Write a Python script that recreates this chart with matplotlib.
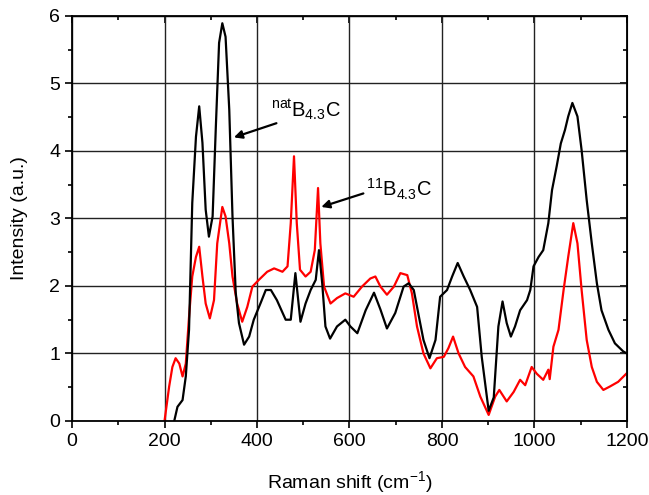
import matplotlib.pyplot as plt
from matplotlib.ticker import MultipleLocator

plt.rcParams['font.family'] = ['Liberation Sans', 'DejaVu Sans']
plt.rcParams['mathtext.fontset'] = 'custom'
plt.rcParams['mathtext.rm'] = 'Liberation Sans'

# natural boron carbide spectrum
x_nat = [221, 228, 239, 246, 253, 260, 268, 275, 282, 289,
         296, 304, 311, 318, 325, 332, 340, 347, 354, 361,
         372, 383, 393, 408, 419, 430, 443, 462, 473, 483,
         494, 505, 516, 527, 534, 541, 548, 558, 573, 591,
         602, 617, 635, 653, 667, 681, 699, 717, 728, 739,
         750, 760, 773, 786, 796, 811, 822, 834, 847, 861,
         876, 886, 901, 912, 922, 931, 940, 949, 958, 969,
         984, 991, 998, 1009, 1019, 1030, 1038, 1048, 1057, 1066,
         1073, 1082, 1093, 1102, 1113, 1124, 1135, 1145, 1160, 1174,
         1192, 1200]
y_nat = [0.0, 0.21, 0.31, 0.66, 1.35, 3.23, 4.21, 4.66, 4.12, 3.13,
         2.73, 3.03, 4.36, 5.6, 5.89, 5.69, 4.61, 3.03, 1.9, 1.45,
         1.13, 1.25, 1.5, 1.75, 1.94, 1.94, 1.79, 1.5, 1.5, 2.19,
         1.47, 1.74, 1.94, 2.09, 2.53, 2.04, 1.4, 1.22, 1.4, 1.5,
         1.4, 1.3, 1.64, 1.9, 1.65, 1.37, 1.6, 1.99, 2.04, 1.94,
         1.55, 1.2, 0.93, 1.2, 1.84, 1.94, 2.14, 2.34, 2.14, 1.94,
         1.69, 0.95, 0.15, 0.35, 1.4, 1.77, 1.45, 1.25, 1.4, 1.64,
         1.79, 1.94, 2.29, 2.43, 2.53, 2.93, 3.42, 3.77, 4.11, 4.31,
         4.51, 4.71, 4.51, 4.01, 3.27, 2.63, 2.04, 1.64, 1.35, 1.15,
         1.03, 1.0]

# 11B enriched boron carbide spectrum
x_11 = [200, 210, 217, 224, 232, 239, 246, 253, 260, 268,
        275, 282, 289, 298, 307, 314, 325, 332, 340, 347,
        357, 368, 379, 390, 404, 422, 437, 455, 466, 473,
        480, 486, 493, 505, 516, 525, 532, 537, 545, 559,
        573, 591, 609, 627, 645, 656, 667, 681, 696, 710,
        725, 735, 746, 760, 775, 789, 804, 814, 824, 836,
        850, 868, 883, 901, 915, 924, 940, 955, 969, 980,
        994, 1005, 1019, 1030, 1033, 1041, 1052, 1063, 1073, 1084,
        1093, 1102, 1113, 1124, 1135, 1149, 1163, 1181, 1200]
y_11 = [0.0, 0.51, 0.8, 0.93, 0.85, 0.66, 0.85, 1.54, 2.14, 2.43,
        2.58, 2.14, 1.74, 1.52, 1.79, 2.63, 3.17, 3.03, 2.63, 2.14,
        1.74, 1.47, 1.69, 1.99, 2.09, 2.21, 2.26, 2.21, 2.29, 2.93,
        3.92, 2.93, 2.24, 2.14, 2.21, 2.53, 3.45, 2.63, 1.99, 1.74,
        1.82, 1.89, 1.84, 1.99, 2.11, 2.14, 1.99, 1.87, 1.99, 2.19,
        2.16, 1.89, 1.4, 1.0, 0.78, 0.93, 0.95, 1.08, 1.25, 1.0,
        0.8, 0.66, 0.36, 0.09, 0.36, 0.46, 0.29, 0.43, 0.61, 0.53,
        0.8, 0.7, 0.61, 0.76, 0.62, 1.1, 1.35, 1.94, 2.43, 2.93,
        2.63, 1.94, 1.2, 0.8, 0.58, 0.46, 0.51, 0.58, 0.71]

fig = plt.figure(figsize=(6.49, 4.95), dpi=100)
ax = fig.add_axes([0.111, 0.1495, 0.855, 0.8185])

ax.plot(x_11, y_11, color='red', lw=1.6)
ax.plot(x_nat, y_nat, color='black', lw=1.6)

ax.set_xlim(0, 1200)
ax.set_ylim(0, 6)
ax.xaxis.set_major_locator(MultipleLocator(200))
ax.xaxis.set_minor_locator(MultipleLocator(100))
ax.yaxis.set_major_locator(MultipleLocator(1))
ax.yaxis.set_minor_locator(MultipleLocator(0.5))
ax.grid(True, which='major', color='#222222', lw=1.0)
ax.set_axisbelow(True)

ax.tick_params(which='both', direction='out', width=1.2, labelsize=14,
               top=False, right=False)
ax.tick_params(which='major', length=5)
ax.tick_params(which='minor', length=3)
for s in ax.spines.values():
    s.set_linewidth(1.3)

# inward ticks on the top and right frame
ax2 = ax.secondary_xaxis('top')
ax2.xaxis.set_major_locator(MultipleLocator(200))
ax2.xaxis.set_minor_locator(MultipleLocator(100))
ax2.tick_params(which='both', direction='in', labeltop=False, width=1.2)
ax2.tick_params(which='major', length=5)
ax2.tick_params(which='minor', length=3)
ax3 = ax.secondary_yaxis('right')
ax3.yaxis.set_major_locator(MultipleLocator(1))
ax3.yaxis.set_minor_locator(MultipleLocator(0.5))
ax3.tick_params(which='both', direction='in', labelright=False, width=1.2)
ax3.tick_params(which='major', length=5)
ax3.tick_params(which='minor', length=3)

ax.set_xlabel('Raman shift (cm$^{-1}$)', fontsize=14, labelpad=14)
ax.set_ylabel('Intensity (a.u.)', fontsize=14, labelpad=15)

ax.annotate('', xy=(350, 4.2), xytext=(442, 4.41),
            arrowprops=dict(arrowstyle='-|>', color='black', lw=1.6,
                            mutation_scale=12, shrinkA=0, shrinkB=0))
ax.text(431, 4.5, r'$^{\rm nat}$B$_{\rm 4.3}$C', fontsize=14.5,
        ha='left', va='baseline')

ax.annotate('', xy=(539, 3.17), xytext=(630, 3.37),
            arrowprops=dict(arrowstyle='-|>', color='black', lw=1.6,
                            mutation_scale=12, shrinkA=0, shrinkB=0))
ax.text(635, 3.33, r'$^{\rm 11}$B$_{\rm 4.3}$C', fontsize=14.5,
        ha='left', va='baseline')

fig.savefig('out.png', dpi=100)
